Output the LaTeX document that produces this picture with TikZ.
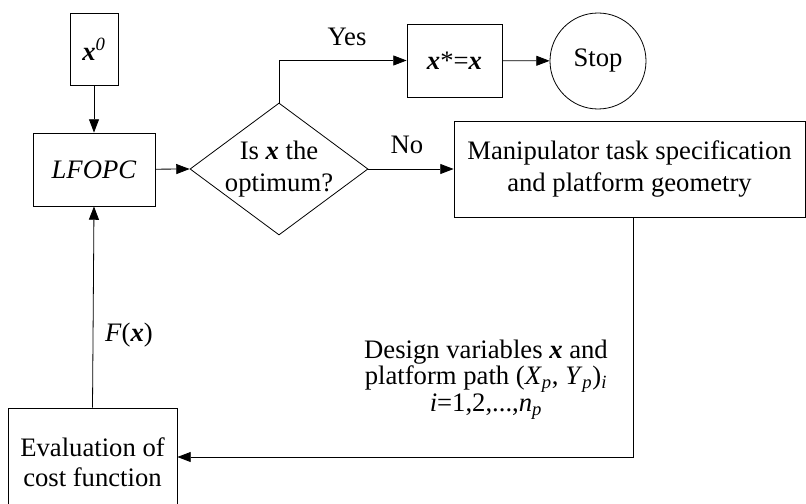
\documentclass[tikz,border=0pt]{standalone}
\usepackage{fontspec}
\setmainfont{Liberation Serif}
\usetikzlibrary{arrows.meta,shapes.geometric}
\newcommand{\vx}{\textbf{\textit{x}}}
\begin{document}
\begin{tikzpicture}[x=0.75pt,y=-0.75pt,
  every node/.style={font=\fontsize{20}{24}\selectfont},
  box/.style={draw,line width=0.6pt,inner sep=0pt,align=center},
  arr/.style={line width=0.6pt,-{Triangle[length=10pt,width=7.5pt]}},
  link/.style={line width=0.6pt}]
\useasboundingbox (0,0) rectangle (806,503);
\clip (0,0) rectangle (806,503);

% blocks
\node[box,minimum width=36pt,minimum height=54pt] (x0) at (94,49) {\vx\textsuperscript{\textit{0}}};
\node[box,minimum width=91.5pt,minimum height=54.75pt] (lfopc) at (94,169.5) {\textit{LFOPC}};
\node[draw,diamond,line width=0.6pt,inner sep=0pt,minimum width=133.5pt,minimum height=99pt] (dec) at (279,169) {};
\node[align=center] (dectext) at (dec) {Is \vx{} the\\optimum?};
\node[box,minimum width=71.25pt,minimum height=54.75pt] (xs) at (454.5,60.5) {\vx*=\vx};
\node[draw,circle,line width=0.6pt,inner sep=0pt,minimum size=72pt] (stop) at (598,61) {Stop};
\node[box,minimum width=263.25pt,minimum height=72pt] (man) at (629.5,169)
  {Manipulator task specification\\and platform geometry};
% the cost box runs off the lower edge
\node[box,minimum width=126.75pt,minimum height=84pt] (eval) at (92.5,464) {};
\node[align=center,font=\fontsize{20}{22.5}\selectfont] (evaltext) at (92.5,462)
  {Evaluation of\\cost function};

% connectors
\coordinate (turn) at (633,457);
\draw[arr] (x0) -- (lfopc);
\draw[arr] (lfopc) -- (dec.west);
\draw[arr] (dec.north) |- (xs.west);
\draw[arr] (xs) -- (stop);
\draw[arr] (dec.east) -- (man.west);
\draw[arr] (man.south -| turn) |- (eval.east |- turn);
\draw[arr] (eval.north) -- (lfopc.south);

% labels
\node (yes) at (347,37) {Yes};
\node (no) at (407,145) {No};
\node (fx) at (129,335) {\textit{F}(\vx)};
\node[align=center,font=\fontsize{20}{18}\selectfont] (dv) at (486,380)
  {Design variables \vx{} and\\
   platform path (\textit{X}\textsubscript{\textit{p}}, \textit{Y}\textsubscript{\textit{p}})\textsubscript{\textit{i}}\\
   \textit{i}=1,2,...,\textit{n}\textsubscript{\textit{p}}};
\end{tikzpicture}
\end{document}
